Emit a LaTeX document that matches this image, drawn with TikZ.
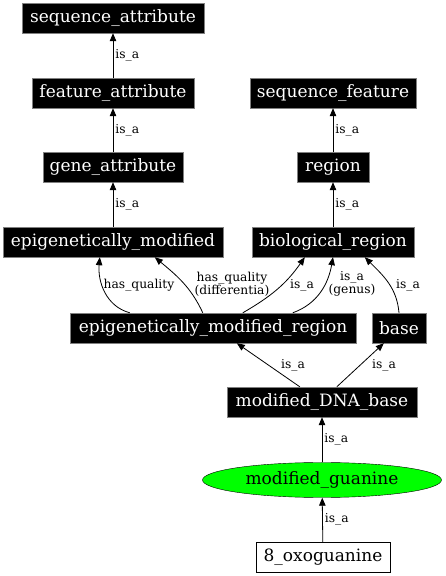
\documentclass[tikz,border=0pt]{standalone}
\usepackage{fontspec}
\setmainfont{DejaVu Serif}
\usetikzlibrary{arrows.meta,shapes.geometric}
\begin{document}
\begin{tikzpicture}[x=1pt,y=1pt,
	term/.style={fill=black,draw=gray,text=white,font=\fontsize{17}{18}\selectfont,inner sep=0pt,minimum height=30pt},
	lbl/.style={font=\fontsize{12.3}{13}\selectfont,inner sep=2pt,align=center},
	isa/.style={-{Triangle[length=8pt,width=6.5pt]},line width=0.8pt}]
	\useasboundingbox (0,0) rectangle (446,576);
	\node[term,minimum width=182pt] (sa) at (113,558) {sequence\_attribute};
	\node[term,minimum width=162pt] (fa) at (113,483) {feature\_attribute};
	\node[term,minimum width=140pt] (ga) at (113,409) {gene\_attribute};
	\node[term,minimum width=220pt] (em) at (113,334) {epigenetically\_modified};
	\node[term,minimum width=166pt] (sf) at (333,483) {sequence\_feature};
	\node[term,minimum width=72pt] (rg) at (333,409) {region};
	\node[term,minimum width=162pt] (br) at (333,334) {biological\_region};
	\node[term,minimum width=286pt] (emr) at (213,248) {epigenetically\_modified\_region};
	\node[term,minimum width=54pt] (base) at (399,248) {base};
	\node[term,minimum width=190pt] (mdb) at (322,174) {modified\_DNA\_base};
	\node[ellipse,draw,fill=green,minimum width=239pt,minimum height=35pt,inner sep=0pt,font=\fontsize{17}{18}\selectfont] (mg) at (322,96) {modified\_guanine};
	\node[draw,fill=white,minimum width=134pt,minimum height=30pt,inner sep=0pt,font=\fontsize{17}{18}\selectfont] (ox) at (323,19) {8\_oxoguanine};
	\draw[isa] (fa) -- (sa) node[lbl,midway,right] (l1) {is\_a};
	\draw[isa] (ga) -- (fa) node[lbl,midway,right] (l2) {is\_a};
	\draw[isa] (em) -- (ga) node[lbl,midway,right] (l3) {is\_a};
	\draw[isa] (rg) -- (sf) node[lbl,midway,right] (l4) {is\_a};
	\draw[isa] (br) -- (rg) node[lbl,midway,right] (l5) {is\_a};
	\draw[isa] ([xshift=60pt]emr.north west) to[out=165,in=-95] ([xshift=97pt]em.south west);
	\draw[isa] ([xshift=133pt]emr.north west) to[out=115,in=-40] ([xshift=152pt]em.south west);
	\draw[isa] ([xshift=173pt]emr.north west) to[out=30,in=-125] ([xshift=53pt]br.south west);
	\draw[isa] ([xshift=223pt]emr.north west) to[out=20,in=-100] (br.south);
	\draw[isa] (base.north) to[out=95,in=-45] ([xshift=113pt]br.south west);
	\node[lbl] (l6) at (139,291) {has\_quality};
	\node[lbl] (l7) at (232,292) {has\_quality\\(differentia)};
	\node[lbl] (l8) at (302,291) {is\_a};
	\node[lbl] (l9) at (352,292) {is\_a\\(genus)};
	\node[lbl] (l10) at (408,291) {is\_a};
	\draw[isa] ([xshift=73pt]mdb.north west) -- ([xshift=167pt]emr.south west);
	\draw[isa] ([xshift=110pt]mdb.north west) -- ([xshift=12pt]base.south west);
	\node[lbl] (l11) at (293,211) {is\_a};
	\node[lbl] (l12) at (384,211) {is\_a};
	\draw[isa] (mg) -- (mdb) node[lbl,midway,right] (l13) {is\_a};
	\draw[isa] (ox) -- (mg) node[lbl,midway,right] (l14) {is\_a};
\end{tikzpicture}
\end{document}
